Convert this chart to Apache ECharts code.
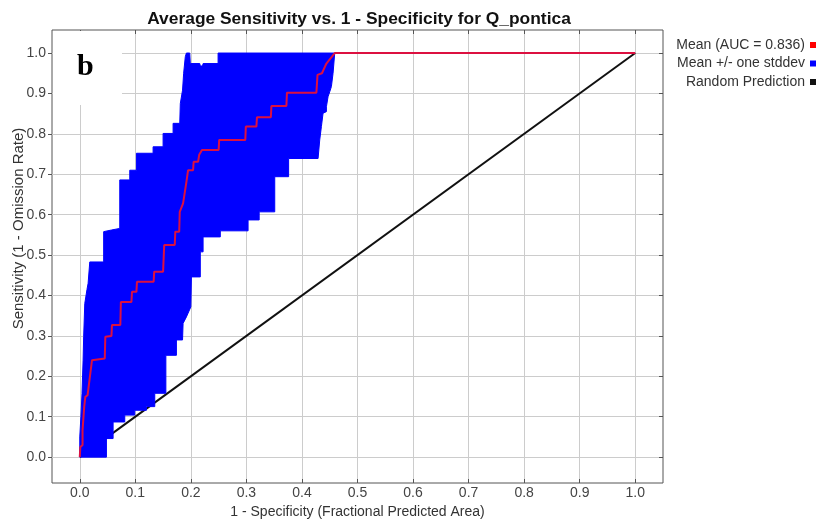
<!DOCTYPE html>
<html><head><meta charset="utf-8">
<script src="https://cdn.jsdelivr.net/npm/echarts@6/dist/echarts.min.js"></script>
<style>html,body{margin:0;padding:0;background:#fff}#c{width:819px;height:525px}</style>
</head><body><div id="c"></div>
<script>
const tickValues = [0.0,0.1,0.2,0.3,0.4,0.5,0.6,0.7,0.8,0.9,1.0];
const titleText = 'Average Sensitivity vs. 1 - Specificity for Q_pontica';
const xAxisTitle = '1 - Specificity (Fractional Predicted Area)';
const yAxisTitle = 'Sensitivity (1 - Omission Rate)';
const seriesNames = ['Mean (AUC = 0.836)', 'Mean +/- one stddev', 'Random Prediction'];
const panelLabel = 'b';

const meanX = [0.000,0.001,0.005,0.005,0.008,0.010,0.014,0.022,0.045,0.046,0.057,0.058,0.073,0.074,0.093,0.094,0.102,0.103,0.133,0.134,0.150,0.152,0.171,0.172,0.179,0.180,0.186,0.192,0.195,0.204,0.205,0.213,0.215,0.220,0.250,0.251,0.298,0.299,0.318,0.319,0.344,0.345,0.372,0.373,0.426,0.428,0.436,0.438,0.444,0.459,1.000];
const meanY = [0.000,0.025,0.030,0.067,0.125,0.149,0.153,0.240,0.244,0.298,0.300,0.327,0.327,0.384,0.384,0.409,0.409,0.434,0.434,0.459,0.459,0.525,0.525,0.558,0.558,0.607,0.628,0.681,0.710,0.710,0.731,0.731,0.748,0.760,0.760,0.785,0.785,0.818,0.818,0.841,0.841,0.869,0.869,0.902,0.902,0.946,0.950,0.952,0.974,1.000,1.000];

const bandUpperX = [0.000,0.000,0.002,0.004,0.006,0.007,0.009,0.013,0.015,0.018,0.043,0.043,0.057,0.072,0.072,0.090,0.090,0.102,0.102,0.132,0.132,0.150,0.150,0.168,0.168,0.180,0.181,0.185,0.187,0.190,0.192,0.198,0.199,0.216,0.217,0.221,0.222,0.249,0.249];
const bandUpperY = [0.000,0.050,0.100,0.157,0.240,0.298,0.380,0.415,0.430,0.483,0.483,0.558,0.562,0.566,0.686,0.686,0.710,0.710,0.752,0.752,0.768,0.768,0.801,0.801,0.826,0.826,0.875,0.908,0.950,0.991,1.000,1.000,0.974,0.974,0.968,0.968,0.974,0.974,1.000];

const bandLowerX = [0.459,0.456,0.453,0.450,0.447,0.444,0.444,0.438,0.435,0.432,0.429,0.376,0.376,0.351,0.351,0.323,0.323,0.303,0.303,0.253,0.253,0.222,0.222,0.217,0.217,0.201,0.200,0.192,0.186,0.185,0.174,0.174,0.155,0.155,0.135,0.135,0.120,0.120,0.099,0.099,0.081,0.081,0.060,0.060,0.048,0.048];
const bandLowerY = [1.000,0.950,0.917,0.904,0.892,0.867,0.855,0.851,0.818,0.785,0.739,0.739,0.694,0.694,0.607,0.607,0.587,0.587,0.560,0.560,0.545,0.545,0.508,0.508,0.446,0.446,0.372,0.347,0.331,0.290,0.290,0.252,0.252,0.158,0.158,0.125,0.125,0.116,0.116,0.104,0.104,0.087,0.087,0.046,0.046,0.000];

const randomX = [0.0, 1.0];
const randomY = [0.0, 1.0];

const FONT = '"Liberation Sans", Arial, sans-serif';
const zip = (a, b) => a.map((v, i) => [v, b[i]]);

const chart = echarts.init(document.getElementById('c'), null, {renderer: 'canvas'});

function axisCommon(extra) {
  return Object.assign({
    type: 'value',
    axisLine: {show: false, onZero: false},
    axisTick: {show: true, inside: true, length: 4, customValues: tickValues, lineStyle: {color: '#555', width: 1}},
    axisLabel: {show: false, customValues: tickValues},
    splitLine: {show: false}
  }, extra);
}

const xMin = -0.05, xMax = 1.05, yMin = -0.064, yMax = 1.057;

chart.setOption({
  animation: false,
  backgroundColor: '#ffffff',
  title: {
    text: titleText, left: 354, top: 6, textAlign: 'center',
    textStyle: {fontFamily: FONT, fontSize: 17.4, fontWeight: 'bold', color: '#111'}
  },
  legend: {
    orient: 'vertical', right: 3, top: 38, align: 'right', padding: 0,
    itemWidth: 6, itemHeight: 6, itemGap: 4.5, icon: 'rect',
    data: seriesNames,
    textStyle: {fontFamily: FONT, fontSize: 14, color: '#333'}
  },
  grid: {left: 52, top: 30, right: 156, bottom: 42, containLabel: false, outerBoundsMode: 'none',
         show: true, borderColor: '#555', borderWidth: 1, backgroundColor: '#fff'},
  xAxis: [
    axisCommon({
      min: xMin, max: xMax, position: 'bottom',
      name: xAxisTitle, nameLocation: 'middle', nameGap: 22,
      nameTextStyle: {fontFamily: FONT, fontSize: 14, color: '#333'},
      axisLabel: {show: true, customValues: tickValues, margin: 3, formatter: v => v.toFixed(1), fontFamily: FONT, fontSize: 14, color: '#444'},
      splitLine: {show: true, lineStyle: {color: '#cccccc', width: 1}}
    }),
    axisCommon({min: xMin, max: xMax, position: 'top'})
  ],
  yAxis: [
    axisCommon({
      min: yMin, max: yMax, position: 'left',
      axisTick: {show: true, inside: false, length: 4, customValues: tickValues, lineStyle: {color: '#555', width: 1}},
      name: yAxisTitle, nameLocation: 'middle', nameGap: 26, nameRotate: 90, nameMoveOverlap: false,
      nameTextStyle: {fontFamily: FONT, fontSize: 15, color: '#333', padding: [0, 0, 0, 56]},
      axisLabel: {show: true, customValues: tickValues, margin: 6, formatter: v => v.toFixed(1), fontFamily: FONT, fontSize: 14, color: '#444'},
      splitLine: {show: true, lineStyle: {color: '#cccccc', width: 1}}
    }),
    axisCommon({min: yMin, max: yMax, position: 'right'})
  ],
  graphic: [
    {type: 'rect', left: 53, top: 31, shape: {width: 69, height: 74}, style: {fill: '#ffffff'}, z: 50},
    {type: 'text', left: 77, top: 52, style: {text: panelLabel, font: 'bold 30px "Liberation Serif", "Times New Roman", serif', fill: '#000'}, z: 51}
  ],
  series: [
    {
      name: seriesNames[2], type: 'line', data: zip(randomX, randomY),
      showSymbol: false, symbol: 'none', color: '#111111',
      lineStyle: {color: '#111111', width: 2}, z: 2
    },
    {
      name: seriesNames[1], type: 'custom', data: [[0, 0]],
      itemStyle: {color: '#0000ff'}, z: 3,
      renderItem: function (params, api) {
        const pts = [];
        for (let i = 0; i < bandUpperX.length; i++) pts.push(api.coord([bandUpperX[i], bandUpperY[i]]));
        for (let i = 0; i < bandLowerX.length; i++) pts.push(api.coord([bandLowerX[i], bandLowerY[i]]));
        return {type: 'polygon', shape: {points: pts}, style: {fill: '#0000ff', stroke: '#0000ff', lineWidth: 1}};
      }
    },
    {
      name: seriesNames[0], type: 'line', data: zip(meanX, meanY),
      showSymbol: false, symbol: 'none', color: '#ff0000',
      lineStyle: {color: '#dc1040', width: 2}, z: 4
    }
  ]
});
</script>
</body></html>
